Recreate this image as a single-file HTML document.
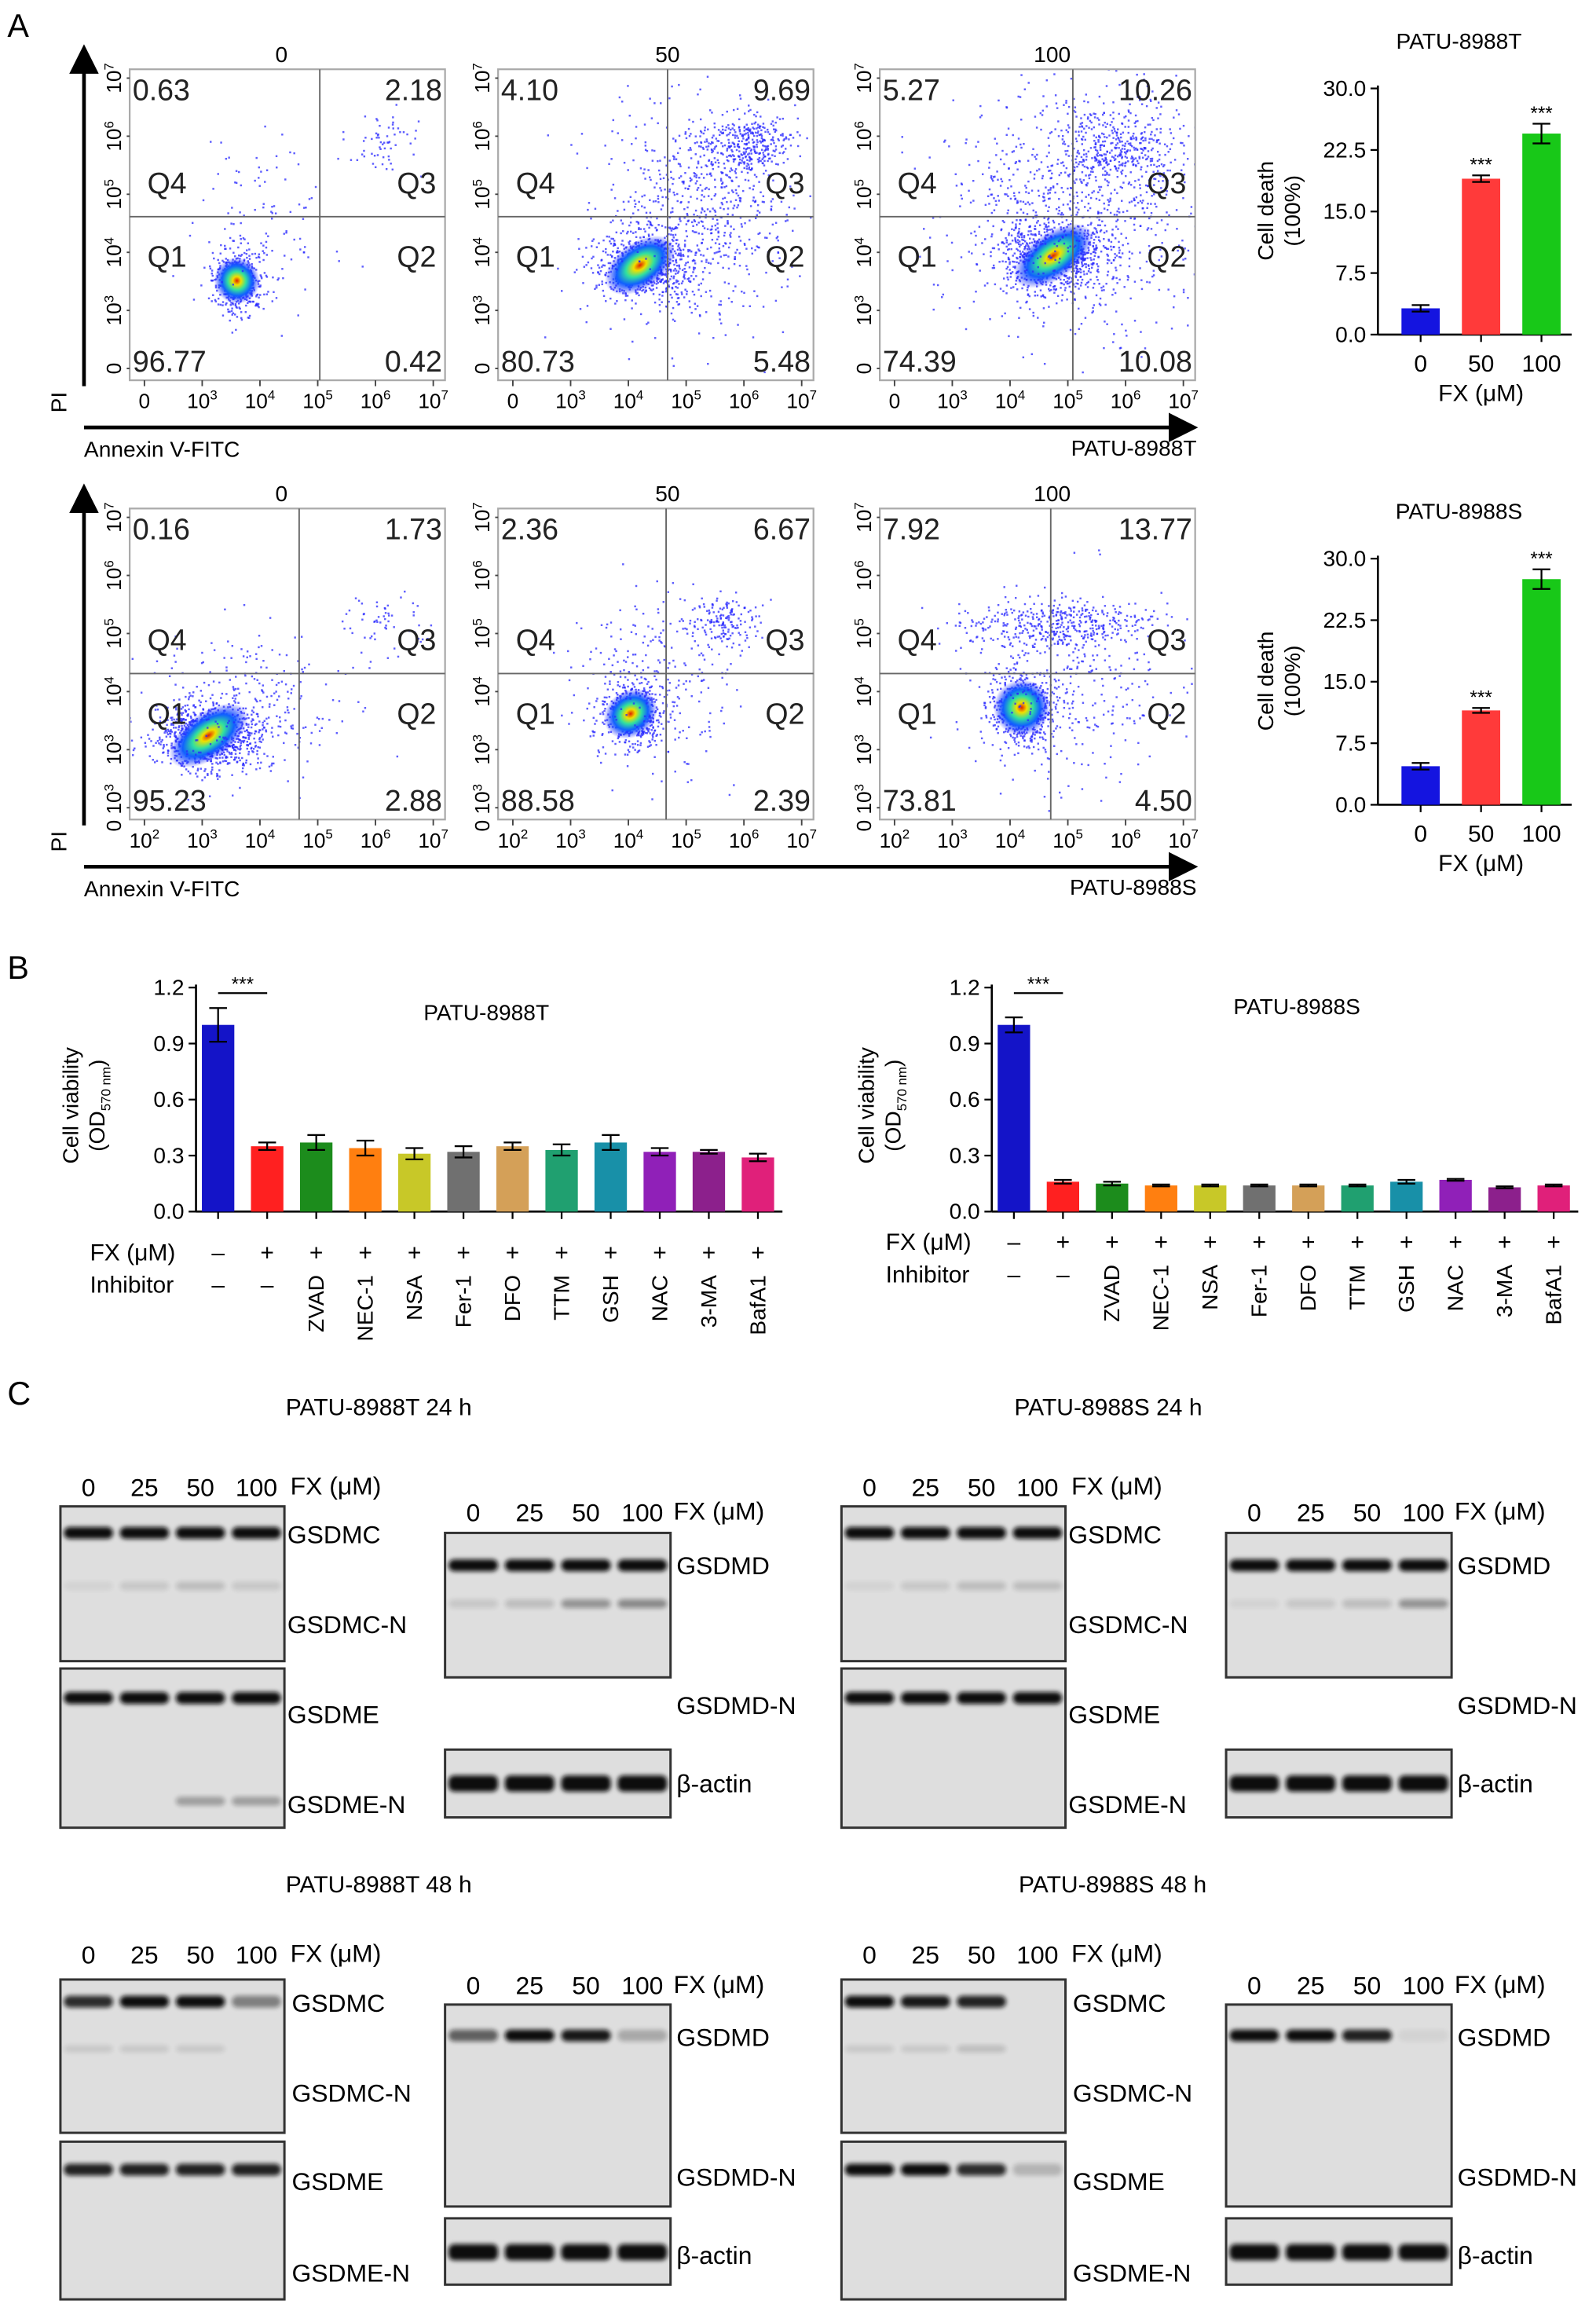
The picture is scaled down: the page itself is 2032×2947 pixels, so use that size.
<!DOCTYPE html>
<html><head><meta charset="utf-8">
<style>
html,body{margin:0;padding:0;background:#fff;}
svg{display:block;font-family:"Liberation Sans",Arial,sans-serif;}
</style></head>
<body>
<svg id="fig" width="2032" height="2947" viewBox="0 0 1083 1570.6" preserveAspectRatio="none" xmlns="http://www.w3.org/2000/svg">
<defs>
<filter id="blur" x="-20%" y="-50%" width="140%" height="200%"><feGaussianBlur stdDeviation="1.6"/></filter>
<radialGradient id="heat">
<stop offset="0" stop-color="#e02000"/><stop offset="0.18" stop-color="#f0e000"/><stop offset="0.4" stop-color="#30e0a0"/><stop offset="0.65" stop-color="#1060ff"/><stop offset="1" stop-color="#2020ff" stop-opacity="0"/>
</radialGradient>
<marker id="arr" markerWidth="8" markerHeight="8" refX="6" refY="4" orient="auto"><path d="M0,0 L8,4 L0,8 z" fill="#000"/></marker>
</defs>
<text x="5" y="25" font-size="22">A</text>
<text x="5" y="664" font-size="22">B</text>
<text x="5" y="953" font-size="22">C</text>
<g id="flow"></g>
<g id="bars"></g>
<g id="blots"></g>
</svg>
<script>
// ---- Data ----
const flowDoses = ["0","50","100"];
const flowT_Q4 = [0.63, 4.10, 5.27];
const flowT_Q3 = [2.18, 9.69, 10.26];
const flowT_Q1 = [96.77, 80.73, 74.39];
const flowT_Q2 = [0.42, 5.48, 10.08];
const flowS_Q4 = [0.16, 2.36, 7.92];
const flowS_Q3 = [1.73, 6.67, 13.77];
const flowS_Q1 = [95.23, 88.58, 73.81];
const flowS_Q2 = [2.88, 2.39, 4.50];

const deathDoses = ["0","50","100"];
const deathT = [3.2, 19.0, 24.5];
const deathTErr = [0.4, 0.4, 1.2];
const deathS = [4.7, 11.5, 27.5];
const deathSErr = [0.4, 0.3, 1.2];
const deathTicks = ["0.0","7.5","15.0","22.5","30.0"];

const inhibitors = ["ZVAD","NEC-1","NSA","Fer-1","DFO","TTM","GSH","NAC","3-MA","BafA1"];
const fxRow = ["–","+","+","+","+","+","+","+","+","+","+","+"];
const inhRow = ["–","–"];
const viabT = [1.0, 0.35, 0.37, 0.34, 0.31, 0.32, 0.35, 0.33, 0.37, 0.32, 0.32, 0.29];
const viabTErr = [0.09, 0.02, 0.04, 0.04, 0.03, 0.03, 0.02, 0.03, 0.04, 0.02, 0.01, 0.02];
const viabS = [1.0, 0.16, 0.15, 0.14, 0.14, 0.14, 0.14, 0.14, 0.16, 0.17, 0.13, 0.14];
const viabSErr = [0.04, 0.01, 0.01, 0.005, 0.005, 0.005, 0.005, 0.005, 0.01, 0.005, 0.005, 0.005];
const viabTicks = ["0.0","0.3","0.6","0.9","1.2"];
const barColors = ["#1414c8","#ff2020","#1c8c1c","#ff7f10","#c8c828","#707070","#d4a058","#20a070","#1890a8","#9020b8","#8c208c","#e0207a"];

const lanes = ["0","25","50","100"];

const NS="http://www.w3.org/2000/svg";
function el(tag, attrs, parent, txt){
  const e=document.createElementNS(NS,tag);
  for(const k in attrs) e.setAttribute(k,attrs[k]);
  if(txt!==undefined) e.textContent=txt;
  parent.appendChild(e); return e;
}
let seed=12345;
function rnd(){seed=(seed*1103515245+12345)%2147483648;return seed/2147483648;}
function gauss(){let u=rnd()||1e-6,v=rnd();return Math.sqrt(-2*Math.log(u))*Math.cos(2*Math.PI*v);}

// ---- Flow plots ----
const flowG=document.getElementById('flow');
const rows=[
 {y:47,h:211,boxes:[88,338,597],w:214,vl:[129,115,131],hl:100,q4:flowT_Q4,q3:flowT_Q3,q1:flowT_Q1,q2:flowT_Q2,xt:["0","3","4","5","6","7"],cell:"PATU-8988T",axY:290,
  clusters:[[[.34,.68,.04,.05,450],[.42,.52,.1,.14,120],[.8,.22,.06,.06,60]],
            [[.45,.63,.07,.05,700],[.62,.48,.14,.18,700],[.78,.24,.07,.05,350]],
            [[.55,.6,.08,.05,800],[.62,.45,.2,.2,900],[.75,.25,.1,.06,350]]]},
 {y:345,h:211,boxes:[88,338,597],w:214,vl:[115,114,116],hl:112,q4:flowS_Q4,q3:flowS_Q3,q1:flowS_Q1,q2:flowS_Q2,xt:["2","3","4","5","6","7"],cell:"PATU-8988S",axY:588,
  clusters:[[[.25,.73,.08,.05,900],[.35,.65,.15,.12,300],[.8,.36,.06,.05,60]],
            [[.42,.66,.05,.05,500],[.5,.56,.12,.15,250],[.72,.36,.06,.04,160]],
            [[.45,.64,.05,.06,600],[.55,.37,.15,.04,420],[.6,.6,.15,.15,300]]]}
];
rows.forEach((r,ri)=>{
  const g=el('g',{},flowG);
  
  
  const va=el('line',{x1:57,y1:r.axY-28,x2:57,y2:r.y-12,stroke:'#000','stroke-width':2.5,'marker-end':'url(#arr)'},g);
   
  const ha=el('line',{x1:57,y1:r.axY,x2:808,y2:r.axY,stroke:'#000','stroke-width':2.5,'marker-end':'url(#arr)'},g);
   
  const pi=el('text',{x:0,y:0,'font-size':15,transform:`translate(45,${r.axY-10}) rotate(-90)`},g,'PI');
   
  const an=el('text',{x:57,y:r.axY+20,'font-size':15},g,'Annexin V-FITC');
   
  const cl=el('text',{x:812,y:r.axY+19,'font-size':15,'text-anchor':'end'},g,r.cell);
   
  r.boxes.forEach((bx,pi2)=>{
    const pg=el('g',{},g);
    
    
    const tt=el('text',{x:bx+r.w/2-(pi2==0?4:0)+(pi2==1?8:0)+(pi2==2?10:0),y:r.y-5,'font-size':15,'text-anchor':'middle'},pg,flowDoses[pi2]);
     
    const clip='clip'+ri+pi2;
    const cp=el('clipPath',{id:clip},pg); el('rect',{x:bx,y:r.y,width:r.w,height:r.h},cp);
    const dg=el('g',{'clip-path':`url(#${clip})`},pg);
    r.clusters[pi2].forEach((c,ci)=>{
      for(let i=0;i<c[4];i++){
        const px=bx+r.w*(c[0]+c[2]*gauss()), py=r.y+r.h*(c[1]+c[3]*gauss());
        el('rect',{x:px,y:py,width:1.3,height:1.3,fill:'#2828ff',opacity:0.75},dg);
      }
      if(ci==0){
        const hc=el('ellipse',{cx:bx+r.w*c[0],cy:r.y+r.h*c[1],rx:r.w*c[2]*1.8,ry:r.h*c[3]*1.5,fill:'url(#heat)',transform:`rotate(-35 ${bx+r.w*c[0]} ${r.y+r.h*c[1]})`},dg);
         
      }
    });
    const bxr=el('rect',{x:bx,y:r.y,width:r.w,height:r.h,fill:'none',stroke:'#aaa','stroke-width':1.2},pg);
     
    el('line',{x1:bx+r.vl[pi2],y1:r.y,x2:bx+r.vl[pi2],y2:r.y+r.h,stroke:'#666','stroke-width':1},pg);
    el('line',{x1:bx,y1:r.y+r.hl,x2:bx+r.w,y2:r.y+r.hl,stroke:'#666','stroke-width':1},pg);
    const fs=20;
    const qs=[[r.q4[pi2].toFixed(2),bx+2,r.y+21,'start','q4-percent'],[r.q3[pi2].toFixed(2),bx+r.w-2,r.y+21,'end','q3-percent'],
              [r.q1[pi2].toFixed(2),bx+2,r.y+r.h-6,'start','q1-percent'],[r.q2[pi2].toFixed(2),bx+r.w-2,r.y+r.h-6,'end','q2-percent']];
    qs.forEach(q=>{const t=el('text',{x:q[1],y:q[2],'font-size':fs,'text-anchor':q[3],fill:'#222'},pg,q[0]);
       });
    [['Q4',bx+12,r.y+r.hl-16,'start'],['Q3',bx+r.w-6,r.y+r.hl-16,'end'],['Q1',bx+12,r.y+r.hl+34,'start'],['Q2',bx+r.w-6,r.y+r.hl+34,'end']].forEach(q=>{
      const t=el('text',{x:q[1],y:q[2],'font-size':fs,'text-anchor':q[3],fill:'#222'},pg,q[0]);
       });
    const yl=["0","3","4","5","6","7"];
    yl.forEach((e,k)=>{
      const yy=r.y+r.h-8-k*(r.h-14)/5;
      const t=el('text',{'font-size':14,'text-anchor':'middle',transform:`translate(${bx-6},${yy}) rotate(-90)`},pg);
       
      if(e==="0"){t.textContent= (ri==1?"0 10":"0"); if(ri==1){el('tspan',{'font-size':9,dy:-5},t,'3');}}
      else{t.textContent='10';el('tspan',{'font-size':9,dy:-5},t,e);}
      el('line',{x1:bx-2,y1:yy,x2:bx,y2:yy,stroke:'#444'},pg);
    });
    r.xt.forEach((e,k)=>{
      const xx=bx+10+k*(r.w-18)/5;
      const t=el('text',{x:xx,y:r.y+r.h+19,'font-size':14,'text-anchor':'middle'},pg);
       
      if(e==="0"){t.textContent="0";}else{t.textContent='10';el('tspan',{'font-size':9,dy:-6},t,e);}
      el('line',{x1:xx,y1:r.y+r.h,x2:xx,y2:r.y+r.h+4,stroke:'#444'},pg);
    });
  });
});

// ---- Bar charts ----
const barsG=document.getElementById('bars');
function barChart(o){
  const g=el('g',{},barsG);
  
  
  const yS=v=>o.y0-(v/o.max)*(o.y0-o.y1);
  const xS=i=>o.x0+o.first+i*o.step;
  el('line',{x1:o.x0,y1:o.y1-2,x2:o.x0,y2:o.y0,stroke:'#000','stroke-width':1.4},g);
  el('line',{x1:o.x0,y1:o.y0,x2:xS(o.vals.length-1)+o.step/2,y2:o.y0,stroke:'#000','stroke-width':1.4},g);
  o.ticks.forEach((t,k)=>{
    const v=parseFloat(t), yy=yS(v);
    el('line',{x1:o.x0-5,y1:yy,x2:o.x0,y2:yy,stroke:'#000','stroke-width':1.2},g);
    const tx=el('text',{x:o.x0-8,y:yy+5,'font-size':15,'text-anchor':'end'},g,t);
     
  });
  o.vals.forEach((v,i)=>{
    const x=xS(i);
    const b=el('rect',{x:x-o.bw/2,y:yS(v),width:o.bw,height:o.y0-yS(v),fill:o.colors[i]},g);
     
    const e=o.err[i];
    el('line',{x1:x,y1:yS(v+e),x2:x,y2:yS(v-e),stroke:'#000','stroke-width':1.2},g);
    el('line',{x1:x-6,y1:yS(v+e),x2:x+6,y2:yS(v+e),stroke:'#000','stroke-width':1.2},g);
    el('line',{x1:x-6,y1:yS(v-e),x2:x+6,y2:yS(v-e),stroke:'#000','stroke-width':1.2},g);
    el('line',{x1:x,y1:o.y0,x2:x,y2:o.y0+5,stroke:'#000','stroke-width':1.2},g);
    if(o.stars && i>0){
      const s=el('text',{x:x,y:yS(v+e)-3,'font-size':13,'text-anchor':'middle'},g,'***');
       
    }
  });
  return {g,xS,yS};
}
function deathChart(vals,err,y0,title,name){
  const c=barChart({name,x0:935,y0:y0,y1:y0-167,max:30,ticks:deathTicks,vals,err,first:29,step:41,bw:26,colors:["#1414e0","#ff3a3a","#18c818"],stars:true});
  deathDoses.forEach((d,i)=>{const t=el('text',{x:c.xS(i),y:y0+25,'font-size':16,'text-anchor':'middle'},c.g,d);
     });
  const fx=el('text',{x:1005,y:y0+45,'font-size':16,'text-anchor':'middle'},c.g,'FX (μM)');
   
  const tt=el('text',{x:990,y:y0-194,'font-size':15,'text-anchor':'middle'},c.g,title);
   
  const yt=el('text',{'font-size':15,'text-anchor':'middle',transform:`translate(864,${y0-84}) rotate(-90)`},c.g,'Cell death');
   
  el('text',{'font-size':15,'text-anchor':'middle',transform:`translate(882,${y0-84}) rotate(-90)`},c.g,'(100%)');
}
deathChart(deathT,deathTErr,227,'PATU-8988T','cell-death-chart-8988t');
deathChart(deathS,deathSErr,546,'PATU-8988S','cell-death-chart-8988s');

function viabChart(vals,err,x0,title,titleX,titleY,fxY,name){
  const c=barChart({name,x0:x0,y0:822,y1:670,max:1.2,ticks:viabTicks,vals,err,first:15,step:33.3,bw:22,colors:barColors,stars:false});
  const sy=c.yS(1.17);
  el('line',{x1:c.xS(0),y1:sy,x2:c.xS(1),y2:sy,stroke:'#000','stroke-width':1.2},c.g);
  const st=el('text',{x:(c.xS(0)+c.xS(1))/2,y:sy-2,'font-size':13,'text-anchor':'middle'},c.g,'***');
   
  const tt=el('text',{x:titleX,y:titleY,'font-size':15,'text-anchor':'middle'},c.g,title);
   
  const l1=el('text',{x:x0-72,y:fxY,'font-size':16},c.g,'FX (μM)');
   
  const l2=el('text',{x:x0-72,y:fxY+22,'font-size':16},c.g,'Inhibitor');
   
  fxRow.forEach((s,i)=>{const t=el('text',{x:c.xS(i),y:fxY,'font-size':16,'text-anchor':'middle'},c.g,s);
     });
  inhRow.forEach((s,i)=>{const t=el('text',{x:c.xS(i),y:fxY+22,'font-size':16,'text-anchor':'middle'},c.g,s);
     });
  inhibitors.forEach((s,i)=>{const t=el('text',{'font-size':15,'text-anchor':'end',transform:`translate(${c.xS(i+2)+5},${fxY+10}) rotate(-90)`},c.g,s);
     });
  const yt=el('text',{'font-size':15,'text-anchor':'middle',transform:`translate(${x0-80},${750}) rotate(-90)`},c.g,'Cell viability');
   
  const y2=el('text',{'font-size':15,'text-anchor':'middle',transform:`translate(${x0-62},${750}) rotate(-90)`},c.g,'(OD');
  el('tspan',{'font-size':9,dy:4},y2,'570 nm');
  el('tspan',{dy:-4},y2,')');
}
viabChart(viabT,viabTErr,133,'PATU-8988T',330,692,855,'viability-chart-8988t');
viabChart(viabS,viabSErr,673,'PATU-8988S',880,688,848,'viability-chart-8988s');

// ---- Western blots ----
const blotsG=document.getElementById('blots');
const blotTitles=[["PATU-8988T 24 h",257,960],["PATU-8988S 24 h",752,960],["PATU-8988T 48 h",257,1284],["PATU-8988S 48 h",755,1284]];
blotTitles.forEach(b=>{const t=el('text',{x:b[1],y:b[2],'font-size':16,'text-anchor':'middle'},blotsG,b[0]);
   });
const b24T_C=[1,1,1,1], b24T_CN=[0.05,0.1,0.15,0.1], b24T_E=[1,1,1,1], b24T_EN=[0,0,0.3,0.3], b24T_D=[1,1,1,1], b24T_DN=[0.1,0.15,0.35,0.4], b24T_A=[1,1,1,1];
const b24S_C=[1,1,1,1], b24S_CN=[0.05,0.1,0.15,0.15], b24S_E=[1,1,1,1], b24S_EN=[0,0,0,0], b24S_D=[1,1,1,1], b24S_DN=[0.05,0.1,0.15,0.35], b24S_A=[1,1,1,1];
const b48T_C=[0.85,1,1,0.45], b48T_CN=[0.1,0.1,0.1,0], b48T_E=[0.9,0.9,0.9,0.9], b48T_D=[0.6,1,0.95,0.25], b48T_A=[1,1,1,1];
const b48S_C=[1,0.95,0.9,0], b48S_CN=[0.1,0.1,0.15,0], b48S_E=[1,1,0.85,0.2], b48S_D=[1,1,0.9,0.05], b48S_A=[1,1,1,1];

function blot(x,y,w,h,bands,name){
  const g=el('g',{},blotsG);
  
  
  el('rect',{x:x,y:y,width:w,height:h,fill:'#dedede'},g);
  bands.forEach(b=>{
    b[1].forEach((v,i)=>{
      if(v<=0) return;
      const cx=x+w*(0.125+0.25*i);
      const r=el('rect',{x:cx-w*0.11,y:b[0]-b[2]/2,width:w*0.22,height:b[2],rx:4,fill:'#111',opacity:v,filter:'url(#blur)'},g);
       
    });
  });
  el('rect',{x:x,y:y,width:w,height:h,fill:'none',stroke:'#333','stroke-width':1.6},g);
}
function label(x,y,t,n){const e=el('text',{x:x,y:y,'font-size':17},blotsG,t);
   }
function laneLabels(x,w,y,fxX){
  lanes.forEach((l,i)=>{const t=el('text',{x:x+w*(0.125+0.25*i),y:y,'font-size':17,'text-anchor':'middle'},blotsG,l);
     });
  label(fxX,y-1,'FX (μM)','fx-label');
}
function blotSet(dx,is48,C,CN,E,EN,D,DN,A,tag){
  if(!is48){
    laneLabels(41+dx,152,1015,197+dx);
    blot(41+dx,1022,152,105,[[1040,C,8],[1076,CN,6]],'blot-gsdmc-'+tag);
    blot(41+dx,1132,152,108,[[1152,E,8],[1222,EN,6]],'blot-gsdme-'+tag);
    label(195+dx,1047,'GSDMC','label-gsdmc'); label(195+dx,1108,'GSDMC-N','label-gsdmc-n');
    label(195+dx,1169,'GSDME','label-gsdme'); label(195+dx,1230,'GSDME-N','label-gsdme-n');
    laneLabels(302+dx,153,1032,457+dx);
    blot(302+dx,1040,153,98,[[1062,D,8],[1088,DN,6]],'blot-gsdmd-'+tag);
    blot(302+dx,1187,153,46,[[1210,A,11]],'blot-actin-'+tag);
    label(459+dx,1068,'GSDMD','label-gsdmd'); label(459+dx,1163,'GSDMD-N','label-gsdmd-n'); label(459+dx,1216,'β-actin','label-actin');
  } else {
    laneLabels(41+dx,152,1332,197+dx);
    blot(41+dx,1343,152,104,[[1358,C,8],[1390,CN,5]],'blot-gsdmc-'+tag);
    blot(41+dx,1453,152,107,[[1472,E,8]],'blot-gsdme-'+tag);
    label(198+dx,1365,'GSDMC','label-gsdmc'); label(198+dx,1426,'GSDMC-N','label-gsdmc-n');
    label(198+dx,1486,'GSDME','label-gsdme'); label(198+dx,1548,'GSDME-N','label-gsdme-n');
    laneLabels(302+dx,153,1353,457+dx);
    blot(302+dx,1360,153,137,[[1381,D,8]],'blot-gsdmd-'+tag);
    blot(302+dx,1505,153,45,[[1528,A,11]],'blot-actin-'+tag);
    label(459+dx,1388,'GSDMD','label-gsdmd'); label(459+dx,1483,'GSDMD-N','label-gsdmd-n'); label(459+dx,1536,'β-actin','label-actin');
  }
}
blotSet(0,false,b24T_C,b24T_CN,b24T_E,b24T_EN,b24T_D,b24T_DN,b24T_A,'8988t-24h');
blotSet(530,false,b24S_C,b24S_CN,b24S_E,b24S_EN,b24S_D,b24S_DN,b24S_A,'8988s-24h');
blotSet(0,true,b48T_C,b48T_CN,b48T_E,null,b48T_D,null,b48T_A,'8988t-48h');
blotSet(530,true,b48S_C,b48S_CN,b48S_E,null,b48S_D,null,b48S_A,'8988s-48h');
</script>
</body></html>
